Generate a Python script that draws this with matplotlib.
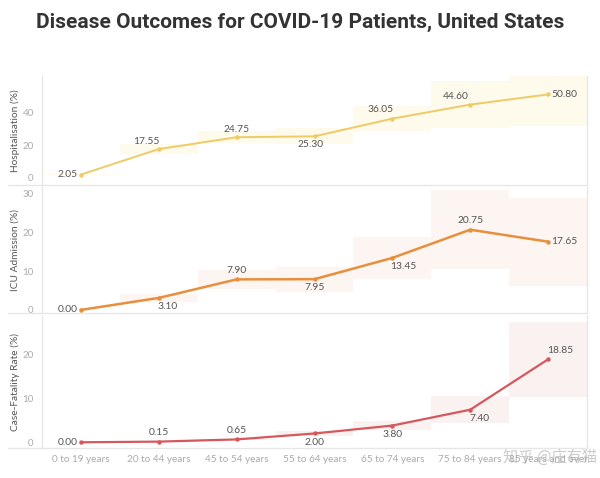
import matplotlib
matplotlib.use("Agg")
import matplotlib.pyplot as plt
from matplotlib.lines import Line2D

plt.rcParams['font.family'] = ['Lato', 'DejaVu Sans']

# ---- data ----
age_groups = ["0 to 19 years", "20 to 44 years", "45 to 54 years", "55 to 64 years",
              "65 to 74 years", "75 to 84 years", "85 years and over"]

hosp_low  = [1.6, 14.3, 21.2, 20.5, 28.6, 30.5, 31.3]
hosp_high = [2.5, 20.8, 28.3, 30.1, 43.5, 58.7, 70.3]
hosp_mid  = [2.05, 17.55, 24.75, 25.30, 36.05, 44.60, 50.80]

icu_low  = [0.0, 2.0, 5.4, 4.7, 8.1, 10.5, 6.3]
icu_high = [0.0, 4.2, 10.4, 11.2, 18.8, 31.0, 29.0]
icu_mid  = [0.00, 3.10, 7.90, 7.95, 13.45, 20.75, 17.65]

cfr_low  = [0.0, 0.1, 0.5, 1.4, 2.7, 4.3, 10.4]
cfr_high = [0.0, 0.2, 0.8, 2.6, 4.9, 10.5, 27.3]
cfr_mid  = [0.00, 0.15, 0.65, 2.00, 3.80, 7.40, 18.85]

y_labels = ["Hospitalisation (%)", "ICU Admission (%)", "Case-Fatality Rate (%)"]
title = "Disease Outcomes for COVID-19 Patients, United States"
watermark = "知乎 @庄有猫"

# ---- style ----
W, H = 600, 478
fig = plt.figure(figsize=(6.0, 4.78), dpi=100)

def frac_axes(x0, y0, x1, y1):
    return fig.add_axes([x0 / W, 1 - y1 / H, (x1 - x0) / W, (y1 - y0) / H])

panels = [
    dict(box=(42, 76, 587, 185), ylim=(-4.3, 62), ticks=[0, 20, 40],
         low=hosp_low, high=hosp_high, mid=hosp_mid, line="#eecb66", band="#fefaec", lw=1.4,
         offs=[(-3, 0, 'right'), (-12, 8, 'center'), (0, 8, 'center'), (-4, -8, 'center'),
               (-12, 9, 'center'), (-14, 8, 'center'), (3, 0, 'left')]),
    dict(box=(42, 187, 587, 313), ylim=(-0.8, 31.8), ticks=[0, 10, 20, 30],
         low=icu_low, high=icu_high, mid=icu_mid, line="#e88f3e", band="#fcf5f1", lw=1.8,
         offs=[(-3, 0, 'right'), (9, -9, 'center'), (0, 9, 'center'), (0, -8, 'center'),
               (11, -9, 'center'), (0, 9, 'center'), (3, 0, 'left')]),
    dict(box=(42, 316, 587, 448), ylim=(-1.3, 28.7), ticks=[0, 10, 20],
         low=cfr_low, high=cfr_high, mid=cfr_mid, line="#d6585d", band="#faf1f1", lw=1.6,
         offs=[(-3, 0, 'right'), (0, 9, 'center'), (0, 9, 'center'), (0, -9, 'center'),
               (0, -9, 'center'), (9, -9, 'center'), (12, 9, 'center')]),
]

x = list(range(len(age_groups)))
grid_col = "#e6e6e6"

for i, p in enumerate(panels):
    ax = frac_axes(*p['box'])
    ax.set_xlim(-0.5, len(age_groups) - 0.5)
    ax.set_ylim(*p['ylim'])
    for xi, lo, hi in zip(x, p['low'], p['high']):
        if hi > lo:
            ax.fill_between([xi - 0.5, xi + 0.5], [lo, lo], [hi, hi], color=p['band'], lw=0, zorder=1)
    ax.plot(x, p['mid'], color=p['line'], lw=p['lw'], marker='o', ms=2.2, zorder=3)
    for xi, v, (dx, dy, ha) in zip(x, p['mid'], p['offs']):
        ax.annotate(f"{v:.2f}", (xi, v), xytext=(dx, dy), textcoords='offset pixels',
                    ha=ha, va='center', fontsize=7.4, color="#555555", zorder=4)
    ax.set_yticks(p['ticks'])
    ax.tick_params(axis='y', length=0, pad=6, labelsize=7, labelcolor="#aaaaaa")
    ax.set_ylabel(y_labels[i], fontsize=7.3, color="#555555")
    ax.yaxis.set_label_coords(-22 / (p['box'][2] - p['box'][0]), 0.5)
    ax.spines['top'].set_visible(False)
    for s in ['left', 'right', 'bottom']:
        ax.spines[s].set_color(grid_col)
        ax.spines[s].set_linewidth(0.9)
    if i < 2:
        ax.set_xticks([])
    else:
        ax.set_xticks(x)
        ax.set_xticklabels(age_groups)
        ax.tick_params(axis='x', length=0, pad=5, labelsize=7.2, labelcolor="#aaaaaa")
    yb = 1 - p['box'][3] / H
    fig.add_artist(Line2D([8 / W, 42 / W], [yb, yb], color=grid_col, lw=0.9))

fig.text(0.5, 1 - 22 / H, title, ha='center', va='center', fontsize=15,
         fontweight='bold', color="#333333", family=['Roboto', 'DejaVu Sans'])

fig.text(550 / W, 1 - 457 / H, watermark, ha='center', va='center', fontsize=11,
         color="#999999", alpha=0.5, family=['Noto Sans CJK SC', 'DejaVu Sans'])

fig.savefig("out.png", dpi=100, facecolor="white")
